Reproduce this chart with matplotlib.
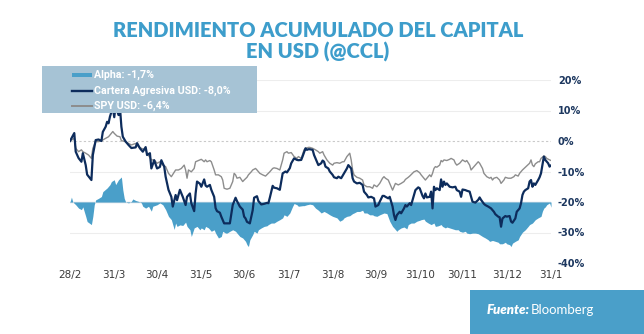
import matplotlib
matplotlib.use("Agg")
import matplotlib.pyplot as plt
from matplotlib.patches import Rectangle
from matplotlib.lines import Line2D
import pandas as pd

# ---------------------------------------------------------------- data
start_date = "2022-02-28"

cartera_days = [0, 3, 4, 6, 8, 9, 11, 12, 15, 16,
                18, 20, 22, 23, 25, 26, 27, 28, 30, 31,
                32, 34, 35, 36, 37, 39, 41, 43, 46, 47,
                49, 51, 53, 54, 56, 57, 59, 61, 63, 64,
                66, 67, 69, 71, 72, 74, 75, 77, 79, 81,
                82, 84, 85, 87, 88, 89, 91, 92, 94, 95,
                96, 98, 99, 101, 102, 103, 105, 106, 108, 110,
                112, 113, 114, 116, 117, 119, 121, 122, 123, 124,
                126, 128, 129, 131, 132, 134, 136, 138, 139, 140,
                142, 143, 145, 147, 148, 149, 151, 152, 154, 155,
                157, 159, 160, 162, 163, 165, 166, 167, 168, 170,
                171, 172, 173, 174, 176, 177, 178, 179, 181, 182,
                184, 185, 187, 188, 190, 192, 194, 195, 197, 198,
                199, 201, 203, 205, 206, 208, 209, 211, 213, 214,
                216, 217, 219, 220, 221, 223, 224, 226, 227, 228,
                229, 231, 232, 234, 235, 236, 238, 239, 241, 242,
                244, 245, 247, 248, 249, 250, 252, 253, 254, 255,
                256, 257, 259, 260, 261, 262, 263, 264, 266, 268,
                270, 271, 273, 274, 275, 277, 278, 280, 281, 282,
                284, 286, 287, 288, 290, 291, 293, 295, 297, 298,
                300, 301, 302, 303, 305, 306, 308, 309, 310, 312,
                313, 315, 316, 317, 318, 319, 321, 322, 323, 324,
                325, 326, 328, 329, 330, 331, 332, 333, 335, 336,
                337]
cartera_pct = [0.0, 2.6, -3.5, -5.6, -6.8, -4.0, -7.9, -11.0, -12.8, -4.6,
               0.3, 0.5, 0.0, 3.0, 4.7, 6.3, 5.8, 8.0, 11.0, 7.8,
               11.5, 8.5, 11.0, 4.7, 1.4, -0.2, -1.3, -2.3, -2.1, -0.7,
               -2.4, -3.5, -2.0, -4.6, -4.0, -9.0, -6.3, -9.0, -8.5, -6.3,
               -8.4, -11.7, -16.0, -18.3, -21.5, -17.7, -19.4, -16.0, -18.3, -21.0,
               -18.3, -17.2, -20.4, -23.0, -17.2, -13.3, -14.0, -15.0, -12.6, -14.6,
               -15.0, -14.4, -16.0, -18.3, -22.0, -23.0, -23.5, -24.8, -27.0, -27.0,
               -27.0, -23.9, -21.0, -18.6, -19.7, -21.5, -22.5, -24.8, -25.4, -26.5,
               -27.0, -22.7, -18.6, -18.1, -19.7, -20.8, -20.6, -20.3, -20.4, -18.6,
               -14.7, -15.3, -15.5, -16.0, -13.3, -10.6, -10.0, -10.3, -8.9, -7.3,
               -5.7, -6.2, -6.3, -6.2, -5.0, -2.4, -2.9, -2.7, -2.7, -2.9,
               -4.6, -5.7, -6.8, -7.9, -7.3, -6.4, -6.8, -8.4, -9.0, -10.0,
               -11.1, -11.9, -12.2, -11.7, -12.2, -10.6, -9.0, -7.9, -9.0, -12.2,
               -13.3, -13.9, -13.7, -14.4, -16.6, -17.7, -18.5, -18.3, -18.8, -21.5,
               -21.0, -19.9, -18.0, -18.0, -18.3, -18.8, -18.3, -21.5, -24.3, -25.9,
               -24.3, -23.2, -23.7, -22.1, -21.0, -21.5, -20.4, -21.0, -17.7, -16.1,
               -15.2, -15.5, -18.0, -18.8, -17.2, -18.5, -18.3, -16.6, -22.1, -15.0,
               -16.1, -15.5, -16.1, -12.6, -15.0, -13.3, -14.4, -13.9, -15.0, -15.2,
               -15.0, -16.1, -16.6, -18.3, -15.9, -16.1, -16.3, -16.6, -18.3, -19.9,
               -20.2, -19.3, -18.5, -19.3, -20.6, -21.0, -21.5, -22.1, -23.2, -24.0,
               -24.8, -25.0, -28.1, -25.4, -24.6, -24.8, -24.6, -26.4, -26.8, -25.4,
               -23.2, -22.1, -20.4, -17.7, -16.6, -16.1, -15.5, -13.3, -12.8, -15.0,
               -13.9, -14.4, -12.8, -11.9, -10.6, -7.9, -5.1, -6.2, -7.3, -8.4,
               -8.0]

spy_days = [0, 3, 4, 6, 8, 9, 11, 13, 15, 16,
            18, 20, 22, 25, 27, 29, 30, 31, 33, 35,
            36, 39, 41, 43, 46, 48, 50, 53, 54, 57,
            59, 61, 63, 65, 67, 69, 71, 74, 76, 78,
            80, 81, 82, 83, 85, 87, 88, 90, 92, 94,
            95, 96, 98, 99, 101, 102, 104, 106, 107, 108,
            110, 112, 114, 115, 116, 117, 119, 121, 122, 124,
            125, 127, 128, 130, 131, 133, 135, 137, 139, 140,
            142, 143, 145, 147, 149, 150, 152, 153, 155, 157,
            159, 160, 162, 164, 165, 167, 168, 170, 172, 174,
            175, 177, 178, 180, 182, 184, 185, 187, 189, 191,
            192, 194, 196, 197, 198, 199, 201, 203, 205, 206,
            208, 210, 212, 213, 215, 217, 219, 220, 221, 223,
            224, 226, 227, 228, 230, 232, 234, 235, 237, 238,
            240, 241, 243, 245, 246, 248, 249, 252, 253, 254,
            255, 256, 257, 259, 260, 261, 262, 264, 266, 267,
            269, 270, 271, 273, 275, 277, 278, 280, 281, 283,
            284, 286, 287, 289, 290, 292, 294, 295, 296, 297,
            299, 301, 302, 304, 305, 307, 309, 311, 312, 314,
            315, 317, 319, 320, 322, 323, 324, 325, 326, 328,
            329, 330, 332, 333, 334, 336, 337]
spy_pct = [0.0, 0.9, -2.4, -3.5, -2.9, -3.5, -4.0, -4.6, -5.7, -2.4,
           -0.2, -0.2, 0.1, 0.9, 1.4, 2.5, 3.1, 2.5, 1.6, 1.4,
           0.1, -0.2, -0.8, -1.3, -0.8, -1.9, -2.4, -2.9, -4.0, -6.2,
           -6.2, -7.3, -6.8, -7.9, -8.4, -10.6, -11.7, -9.5, -9.5, -9.0,
           -7.9, -9.5, -12.2, -9.5, -10.1, -9.0, -6.8, -6.4, -6.0, -6.8,
           -6.2, -6.8, -6.4, -6.8, -9.5, -11.1, -11.1, -11.7, -12.8, -15.5,
           -15.8, -15.5, -13.3, -10.6, -11.1, -12.2, -11.9, -13.3, -12.8, -11.9,
           -11.1, -10.1, -9.5, -9.0, -9.5, -10.6, -11.1, -11.5, -10.6, -10.1,
           -9.0, -8.8, -9.0, -9.5, -6.2, -4.0, -3.5, -4.0, -3.8, -5.1,
           -5.7, -5.1, -5.7, -2.9, -2.4, -2.1, -2.1, -2.4, -2.9, -3.5,
           -4.0, -3.5, -4.6, -6.2, -7.3, -7.9, -7.3, -7.1, -7.3, -6.8,
           -6.8, -5.1, -4.0, -6.2, -9.5, -11.1, -11.9, -12.2, -12.8, -14.4,
           -15.0, -15.0, -15.5, -14.4, -15.0, -13.9, -12.2, -11.7, -12.2, -12.8,
           -13.9, -16.1, -15.0, -13.9, -14.4, -13.9, -13.3, -12.6, -11.9, -11.5,
           -10.6, -10.1, -9.7, -10.4, -11.1, -12.2, -12.8, -11.1, -11.7, -10.6,
           -9.0, -8.4, -8.6, -7.9, -6.4, -6.8, -6.2, -6.4, -6.0, -5.7,
           -6.2, -7.3, -7.9, -7.3, -6.2, -6.8, -6.4, -7.9, -9.5, -8.4,
           -7.9, -6.8, -7.3, -9.0, -10.6, -11.7, -12.2, -11.9, -12.8, -12.2,
           -11.9, -12.8, -13.9, -12.8, -11.9, -12.2, -12.2, -11.7, -11.1, -11.5,
           -10.6, -9.5, -8.6, -8.2, -7.3, -6.2, -7.9, -8.4, -7.5, -6.8,
           -6.8, -5.7, -4.9, -5.1, -5.7, -6.2, -6.4]

alpha_days = [0, 1, 2, 4, 6, 8, 9, 11, 12, 15,
              16, 17, 18, 20, 22, 23, 26, 28, 29, 31,
              32, 34, 36, 37, 38, 39, 41, 43, 44, 46,
              48, 50, 51, 53, 55, 57, 58, 61, 63, 65,
              67, 69, 71, 73, 74, 75, 77, 79, 81, 82,
              84, 85, 87, 89, 91, 92, 94, 95, 97, 99,
              101, 102, 104, 106, 107, 109, 110, 112, 114, 116,
              117, 119, 121, 123, 124, 125, 126, 128, 129, 131,
              132, 134, 136, 138, 139, 141, 143, 145, 147, 149,
              150, 152, 154, 156, 157, 159, 160, 163, 164, 166,
              168, 170, 172, 174, 176, 178, 180, 182, 184, 187,
              189, 191, 192, 194, 196, 198, 199, 201, 203, 205,
              206, 208, 210, 212, 213, 215, 217, 219, 220, 222,
              224, 226, 227, 229, 230, 232, 234, 236, 237, 239,
              241, 243, 245, 246, 248, 249, 251, 253, 255, 256,
              258, 260, 261, 263, 264, 266, 268, 270, 272, 273,
              275, 277, 278, 280, 282, 284, 286, 287, 289, 291,
              293, 294, 296, 298, 300, 301, 303, 305, 306, 308,
              309, 310, 312, 314, 315, 317, 319, 321, 322, 324,
              326, 328, 330, 331, 332, 333, 334, 336, 337]
alpha_pct = [0.0, 1.6, 0.0, -0.9, -2.0, -2.5, -1.6, -4.7, -6.4, -7.4,
             -4.7, -0.9, 0.7, 1.2, 1.8, 3.4, 4.6, 5.7, 6.7, 7.3,
             5.7, 7.3, 8.2, 4.0, 1.2, 0.0, -0.3, 0.2, 1.0, 0.5,
             0.2, -0.3, -1.4, -2.0, -1.4, -3.0, -1.4, -0.9, -0.3, -0.9,
             -2.5, -4.7, -5.8, -9.0, -6.9, -8.0, -7.5, -7.7, -6.6, -8.0,
             -9.1, -11.3, -8.5, -8.0, -9.1, -8.5, -9.1, -8.0, -8.5, -9.6,
             -9.1, -10.2, -11.8, -11.3, -9.6, -10.2, -10.2, -9.6, -9.1, -9.6,
             -10.2, -11.3, -11.8, -12.9, -14.0, -14.6, -12.4, -10.7, -9.6, -10.2,
             -9.1, -8.5, -8.0, -7.8, -7.4, -6.9, -6.9, -6.3, -5.8, -5.2,
             -4.2, -4.7, -3.6, -1.4, -0.5, -0.9, -1.4, -1.2, -1.2, -0.9,
             -0.7, -0.9, -2.0, -2.7, -3.6, -3.1, -3.6, -4.2, -4.7, -5.2,
             -6.3, -5.8, -5.2, -4.7, -4.5, -3.8, -3.6, -3.1, -3.1, -2.7,
             -3.6, -3.6, -4.2, -4.2, -4.5, -4.7, -4.2, -3.8, -3.6, -3.8,
             -6.3, -8.0, -8.5, -9.6, -9.1, -8.5, -8.2, -8.8, -7.4, -6.9,
             -6.9, -6.3, -6.0, -5.8, -5.6, -6.3, -6.9, -7.4, -6.9, -8.0,
             -7.8, -7.4, -8.0, -8.5, -8.2, -8.5, -8.8, -9.1, -9.1, -9.6,
             -9.9, -9.6, -10.2, -10.4, -10.2, -10.2, -10.4, -10.7, -11.3, -11.8,
             -12.4, -12.9, -12.6, -12.9, -13.2, -13.7, -13.7, -13.2, -13.7, -14.0,
             -14.6, -13.5, -12.9, -12.4, -11.3, -9.9, -9.1, -8.0, -7.4, -6.9,
             -5.8, -5.2, -4.7, -3.0, -2.0, -1.6, -0.9, -0.3, -1.7]
alpha_zero_level = -20  # the alpha band hangs from this level of the main scale

tick_dates = ["2022-02-28", "2022-03-31", "2022-04-30", "2022-05-31",
              "2022-06-30", "2022-07-31", "2022-08-31", "2022-09-30",
              "2022-10-31", "2022-11-30", "2022-12-31", "2023-01-31"]
tick_labels = ["28/2", "31/3", "30/4", "31/5", "30/6", "31/7",
               "31/8", "30/9", "31/10", "30/11", "31/12", "31/1"]
y_ticks = [20, 10, 0, -10, -20, -30, -40]

legend_labels = ["Alpha: -1,7%", "Cartera Agresiva USD: -8,0%", "SPY USD: -6,4%"]
title_lines = ["RENDIMIENTO ACUMULADO DEL CAPITAL", "EN USD (@CCL)"]
source_bold, source_name = "Fuente:", "Bloomberg"

# ---------------------------------------------------------------- style
BLUE = "#4a9fc9"
NAVY = "#0d2c5c"
GREY = "#8d8d8d"
TITLE = "#3d9dcb"
LEGEND_BG = "#a6c3d5"
W, H = 644, 334


def fx(px):
    return px / W


def fy(py):
    return 1 - py / H


t0 = pd.Timestamp(start_date)


def to_dates(days):
    return t0 + pd.to_timedelta(days, unit="D")


fig = plt.figure(figsize=(W / 100, H / 100), dpi=100, facecolor="white")
ax = fig.add_axes([fx(70), fy(263), (551 - 70) / W, (263 - 80) / H])
ax.set_facecolor("white")

cartera_dates = to_dates(cartera_days)
spy_dates = to_dates(spy_days)
alpha_dates = to_dates(alpha_days)

# grid
for v in y_ticks:
    if v == 0:
        ax.axhline(v, color="#c9c9c9", lw=0.8, ls=(0, (2, 2)), zorder=0)
    elif v == alpha_zero_level:
        ax.axhline(v, color="#cddbe5", lw=1.0, zorder=0)
    else:
        ax.axhline(v, color="#ededed", lw=0.8, zorder=0)

# alpha band
alpha_top = [alpha_zero_level + a for a in alpha_pct]
ax.fill_between(alpha_dates, alpha_zero_level, alpha_top, color=BLUE,
                linewidth=0, zorder=1)

ax.plot(spy_dates, spy_pct, color=GREY, lw=1.0, zorder=2)
ax.plot(cartera_dates, cartera_pct, color=NAVY, lw=1.6, zorder=3)

ax.set_xlim(t0, pd.Timestamp(tick_dates[-1]))
ax.set_ylim(-40, 20)

for s in ax.spines.values():
    s.set_visible(False)

ax.yaxis.tick_right()
ax.set_yticks(y_ticks)
ax.set_yticklabels([f"{v}%" for v in y_ticks])
ax.tick_params(axis="y", length=0, pad=5, labelsize=7, labelcolor="#1c375f")
for lbl in ax.get_yticklabels():
    lbl.set_fontweight("bold")

ax.set_xticks(pd.to_datetime(tick_dates))
ax.set_xticklabels(tick_labels)
ax.tick_params(axis="x", length=0, pad=5, labelsize=7.5, labelcolor="#3b3b3b")

# title
fig.text(fx(318), fy(30.5), title_lines[0], ha="center", va="center",
         fontsize=14.5, fontweight="heavy", family="Lato", color=TITLE)
fig.text(fx(318), fy(52), title_lines[1], ha="center", va="center",
         fontsize=14.5, fontweight="heavy", family="Lato", color=TITLE)

# legend panel
fig.add_artist(Rectangle((fx(41.5), fy(113)), 215 / W, 46.5 / H,
                         transform=fig.transFigure, facecolor=LEGEND_BG,
                         edgecolor="none", zorder=5))
fig.add_artist(Rectangle((fx(72), fy(77)), 20 / W, 4.5 / H,
                         transform=fig.transFigure, facecolor=BLUE,
                         edgecolor="none", zorder=6))
fig.add_artist(Line2D([fx(72), fx(92)], [fy(90.7)] * 2, transform=fig.transFigure,
                      color=NAVY, lw=1.7, zorder=6))
fig.add_artist(Line2D([fx(72), fx(92)], [fy(106)] * 2, transform=fig.transFigure,
                      color=GREY, lw=1.4, zorder=6))
for label, ly in zip(legend_labels, [75, 90.7, 106]):
    fig.text(fx(94), fy(ly), label, ha="left", va="center", fontsize=7.7,
             fontweight="bold", family="Roboto", color="white", zorder=7)

# source box
fig.add_artist(Rectangle((fx(470), 0), (W - 470) / W, fy(290),
                         transform=fig.transFigure, facecolor=BLUE,
                         edgecolor="none", zorder=5))
fig.text(fx(487), fy(310), source_bold, ha="left", va="center", fontsize=9.5,
         fontweight="heavy", style="italic", family="Lato", color="white", zorder=7)
fig.text(fx(531), fy(310), source_name, ha="left", va="center", fontsize=9.5,
         fontweight="normal", family="Lato", color="white", zorder=7)

fig.savefig("out.png", dpi=100, facecolor="white")
